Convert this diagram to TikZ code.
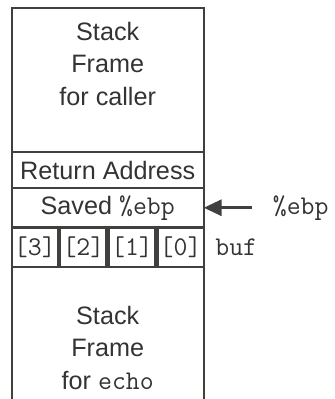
\documentclass[tikz,border=0pt]{standalone}
\usepackage{fontspec}
\setmainfont{Liberation Sans}
\usetikzlibrary{arrows.meta, positioning}

\definecolor{framegray}{RGB}{64,64,62}
\definecolor{inkgray}{RGB}{51,51,51}

\begin{document}
\begin{tikzpicture}[
    x=0.5pt, y=-0.5pt,
    node distance=0pt,
    every node/.style={text=inkgray, font=\fontsize{12.6}{16.2}\selectfont, inner sep=0pt, outer sep=0pt},
    slot/.style={rectangle, draw=framegray, line width=1.1pt, minimum width=96pt, align=center},
    mono/.style={font=\ttfamily\fontsize{13.5}{15}\selectfont},
    cell/.style={rectangle, draw=framegray, line width=1.1pt, minimum width=23.125pt, minimum height=19.75pt, mono},
    arrow/.style={-{Triangle[length=9pt, width=8pt]}, line width=1.6pt, draw=framegray}
]
\useasboundingbox (0,0) rectangle (335,399);

\node[slot, minimum height=72pt, anchor=north west,
      label={[anchor=north, yshift=-7pt, align=center]north:{Stack\\Frame\\for caller}}] (caller) at (11.7,8) {};
\node[slot, minimum height=18pt, below=of caller] (ret) {Return Address};
\node[slot, minimum height=19.75pt, below=of ret] (saved) {Saved {\ttfamily\fontsize{13.5}{15}\selectfont\%ebp}};

\node[cell, below right=0pt and 0pt of saved.south west] (c3) {[3]};
\node[cell, right=1.17pt of c3] (c2) {[2]};
\node[cell, right=1.17pt of c2] (c1) {[1]};
\node[cell, right=1.17pt of c1] (c0) {[0]};

\node[slot, draw=none, minimum height=70pt, below=19.75pt of saved,
      label={[anchor=north, yshift=-19.5pt, align=center]north:{Stack\\Frame\\for {\ttfamily\fontsize{13.5}{15}\selectfont echo}}}] (echo) {};
\draw[framegray, line width=1.1pt] (echo.north west) -- (echo.south west);
\draw[framegray, line width=1.1pt] (echo.north east) -- (echo.south east);

\node[right=5.85pt of c0.base east, anchor=base west, mono] (buf) {buf};
\node[right=34.6pt of saved.base east, anchor=base west, mono] (ebp) {\%ebp};

\draw[arrow, shorten <=10.25pt] (ebp.west) -- (saved.east |- ebp.west);

\end{tikzpicture}
\end{document}
